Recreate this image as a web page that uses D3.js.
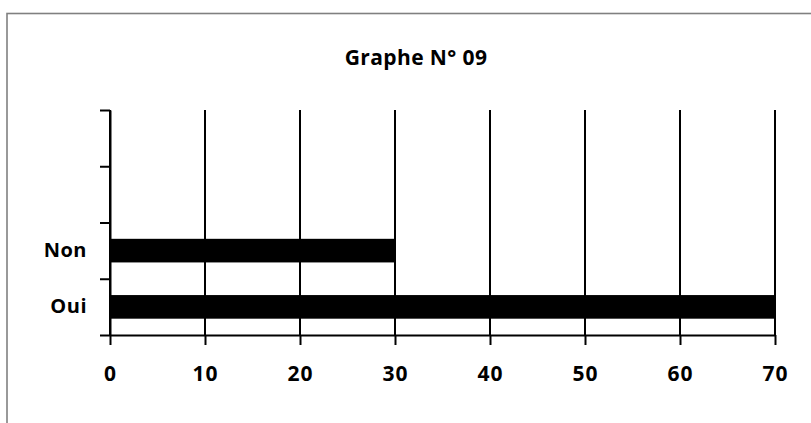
<!DOCTYPE html>
<html>
<head>
<meta charset="utf-8">
<script src="https://cdn.jsdelivr.net/npm/d3@7/dist/d3.min.js"></script>
<style>
  html, body { margin: 0; padding: 0; background: #fff; }
  svg { display: block; }
  text { font-family: "Open Sans", sans-serif; font-weight: bold; fill: #000; }
</style>
</head>
<body>
<svg id="chart" width="811" height="423"></svg>
<script>
// ---- data ----
const title = "Graphe N° 09";
const slots = ["slot4", "slot3", "Non", "Oui"];       // category slots, top to bottom
const slotLabels = ["", "", "Non", "Oui"];
const categories = ["Non", "Oui"];
const values = [30, 70];
const xTicks = [0, 10, 20, 30, 40, 50, 60, 70];

// ---- layout ----
const W = 811, H = 423;
const mLeft = 110, mRight = 775, mTop = 110, mBottom = 335;

const svg = d3.select("#chart");
svg.append("rect").attr("width", W).attr("height", H).attr("fill", "#fff");

// outer chart border
svg.append("rect")
  .attr("x", 7).attr("y", 13.5)
  .attr("width", 900).attr("height", 600)
  .attr("fill", "none").attr("stroke", "#808080").attr("stroke-width", 1.6);

const x = d3.scaleLinear().domain([0, 70]).range([mLeft, mRight]);
const y = d3.scaleBand().domain(slots).range([mTop, mBottom])
  .paddingInner(0.58).paddingOuter(0.29);
const yEdge = d3.scaleLinear().domain([0, slots.length]).range([mTop, mBottom]);

// gridlines
svg.append("g").selectAll("line").data(xTicks).join("line")
  .attr("x1", d => x(d)).attr("x2", d => x(d))
  .attr("y1", mTop).attr("y2", mBottom)
  .attr("stroke", "#000").attr("stroke-width", 2);

// bars
svg.append("g").selectAll("rect").data(categories).join("rect")
  .attr("x", x(0))
  .attr("y", d => y(d))
  .attr("width", (d, i) => x(values[i]) - x(0))
  .attr("height", y.bandwidth())
  .attr("fill", "#000");

// x axis
const xAxis = svg.append("g").attr("transform", `translate(0,${mBottom})`)
  .call(d3.axisBottom(x).tickValues(xTicks).tickSize(10).tickPadding(21).tickSizeOuter(0));
xAxis.select(".domain").attr("stroke", "#000").attr("stroke-width", 2);
xAxis.selectAll(".tick line").attr("stroke", "#000").attr("stroke-width", 2);
xAxis.selectAll(".tick text").style("font-size", "21px").style("letter-spacing", "1px").attr("font-family", null);

// y axis: tick marks at slot edges
const yTicksG = svg.append("g").attr("transform", `translate(${mLeft},0)`)
  .call(d3.axisLeft(yEdge).tickValues(d3.range(slots.length + 1)).tickSize(10).tickFormat("").tickSizeOuter(0));
yTicksG.select(".domain").attr("stroke", "#000").attr("stroke-width", 2);
yTicksG.selectAll(".tick line").attr("stroke", "#000").attr("stroke-width", 2);

// y axis: category labels
const yLab = svg.append("g").attr("transform", `translate(${mLeft},0)`)
  .call(d3.axisLeft(y).tickSize(0).tickPadding(23).tickFormat((d, i) => slotLabels[i]));
yLab.select(".domain").remove();
yLab.selectAll(".tick text").style("font-size", "20px").style("letter-spacing", "0.5px").attr("font-family", null);

// title
svg.append("text")
  .attr("x", 416).attr("y", 65)
  .attr("text-anchor", "middle")
  .style("font-size", "21px")
  .style("letter-spacing", "0.4px")
  .text(title);
</script>
</body>
</html>
